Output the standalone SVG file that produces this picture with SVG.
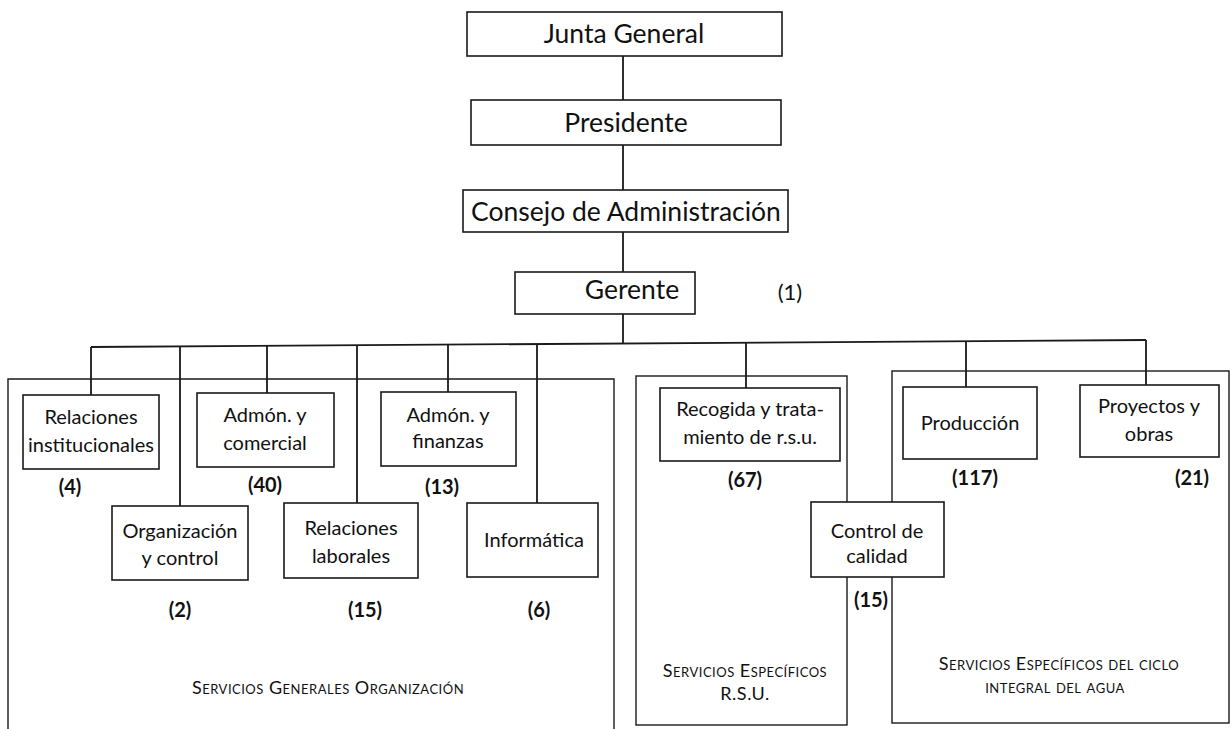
<svg xmlns="http://www.w3.org/2000/svg" width="1231" height="729" viewBox="0 0 1231 729">
<style>
.box{fill:#fff;stroke:#1a1a1a;stroke-width:1.6}
.ct{fill:none;stroke:#1a1a1a;stroke-width:1.4}
.ln{fill:none;stroke:#1a1a1a;stroke-width:1.8}
text{font-family:Lato,"Open Sans","DejaVu Sans",sans-serif;fill:#111}
.t1{font-size:26.5px;text-anchor:middle}
.t2{font-size:20px;text-anchor:middle}
.n{font-size:20px;font-weight:bold;text-anchor:middle}
.sc{font-size:18px;letter-spacing:0.5px;font-variant:small-caps;text-anchor:middle}
</style>
<rect width="1231" height="729" fill="#fff"/>

<g id="sec-generales">
<path class="ct" d="M8,729 V379 H614 V729"/>
<text class="sc" x="328" y="694">Servicios Generales Organización</text>
</g>
<g id="sec-rsu">
<rect class="ct" x="636" y="376" width="211" height="349"/>
<text class="sc" x="745" y="677">Servicios Específicos</text>
<text class="sc" x="745" y="700">R.S.U.</text>
</g>
<g id="sec-agua">
<rect class="ct" x="892" y="371" width="337" height="352"/>
<text class="sc" x="1059" y="670">Servicios Específicos del ciclo</text>
<text class="sc" x="1055" y="693">integral del agua</text>
</g>

<g id="connectors" class="ln">
<path d="M623,56 V100 M623,145 V190 M623,232 V272 M623,314 V344"/>
<path d="M91,347 L1146,340"/>
<path d="M91,347 V395 M180,346 V506 M267,346 V393 M357,345 V503 M448,345 V392 M537,344 V503 M746,343 V388 M966,341 V387 M1146,340 V385"/>
</g>

<g id="junta"><rect class="box" x="467" y="12" width="315" height="44"/><text class="t1" x="624" y="43">Junta General</text></g>
<g id="presidente"><rect class="box" x="471" y="100" width="310" height="45"/><text class="t1" x="626" y="132">Presidente</text></g>
<g id="consejo"><rect class="box" x="463" y="190" width="325" height="42"/><text class="t1" x="626" y="221">Consejo de Administración</text></g>
<g id="gerente"><rect class="box" x="515" y="272" width="180" height="42"/><text class="t1" x="632" y="299">Gerente</text><text class="t1" x="790" y="300" style="font-size:22px">(1)</text></g>

<g id="rel-inst"><rect class="box" x="23" y="395" width="136" height="74"/><text class="t2" x="91" y="424">Relaciones</text><text class="t2" x="91" y="452">institucionales</text><text class="n" x="70" y="494">(4)</text></g>
<g id="adm-comercial"><rect class="box" x="197" y="393" width="137" height="74"/><text class="t2" x="265" y="422">Admón. y</text><text class="t2" x="265" y="450">comercial</text><text class="n" x="265" y="492">(40)</text></g>
<g id="adm-finanzas"><rect class="box" x="381" y="392" width="135" height="74"/><text class="t2" x="448" y="422">Admón. y</text><text class="t2" x="448" y="448">finanzas</text><text class="n" x="442" y="494">(13)</text></g>
<g id="org-control"><rect class="box" x="112" y="506" width="136" height="74"/><text class="t2" x="180" y="538">Organización</text><text class="t2" x="180" y="565">y control</text><text class="n" x="180" y="617">(2)</text></g>
<g id="rel-laborales"><rect class="box" x="284" y="503" width="134" height="75"/><text class="t2" x="351" y="535">Relaciones</text><text class="t2" x="351" y="563">laborales</text><text class="n" x="365" y="617">(15)</text></g>
<g id="informatica"><rect class="box" x="467" y="503" width="131" height="74"/><text class="t2" x="534" y="547">Informática</text><text class="n" x="539" y="617">(6)</text></g>
<g id="recogida"><rect class="box" x="660" y="388" width="180" height="73"/><text class="t2" x="750" y="416">Recogida y trata-</text><text class="t2" x="750" y="444">miento de r.s.u.</text><text class="n" x="745" y="487">(67)</text></g>
<g id="produccion"><rect class="box" x="903" y="387" width="134" height="72"/><text class="t2" x="970" y="430">Producción</text><text class="n" x="975" y="485">(117)</text></g>
<g id="proyectos"><rect class="box" x="1080" y="385" width="139" height="72"/><text class="t2" x="1149" y="413">Proyectos y</text><text class="t2" x="1149" y="441">obras</text><text class="n" x="1192" y="485">(21)</text></g>
<g id="control-calidad"><rect class="box" x="811" y="502" width="133" height="75"/><text class="t2" x="877" y="538">Control de</text><text class="t2" x="877" y="563">calidad</text><text class="n" x="871" y="607">(15)</text></g>
</svg>
